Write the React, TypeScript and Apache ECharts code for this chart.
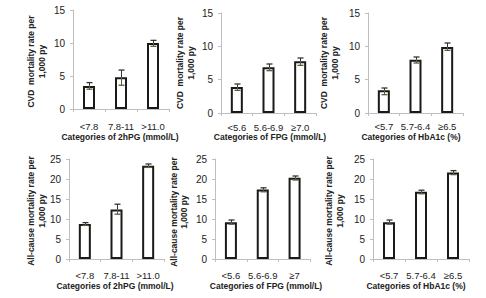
import React, { useEffect, useRef } from "react";
import * as echarts from "echarts";

// ---- data ----
const hpgCategories = ["<7.8", "7.8-11", ">11.0"];
const fpgCategoriesCvd = ["<5.6", "5.6-6.9", "≥7.0"];
const fpgCategoriesAll = ["<5.6", "5.6-6.9", "≥7"];
const hbaCategories = ["<5.7", "5.7-6.4", "≥6.5"];

const cvdHpgRates = [3.5, 4.8, 10.0];
const cvdHpgLow = [3.0, 3.6, 9.5];
const cvdHpgHigh = [4.0, 5.9, 10.4];

const cvdFpgRates = [3.9, 6.85, 7.75];
const cvdFpgLow = [3.4, 6.35, 7.15];
const cvdFpgHigh = [4.35, 7.35, 8.25];

const cvdHbaRates = [3.4, 8.0, 9.9];
const cvdHbaLow = [2.75, 7.5, 9.4];
const cvdHbaHigh = [3.75, 8.4, 10.5];

const allHpgRates = [8.75, 12.4, 23.3];
const allHpgLow = [8.4, 11.2, 22.9];
const allHpgHigh = [9.1, 13.7, 23.75];

const allFpgRates = [9.2, 17.4, 20.3];
const allFpgLow = [8.7, 16.8, 19.75];
const allFpgHigh = [9.75, 17.8, 20.75];

const allHbaRates = [9.2, 16.8, 21.6];
const allHbaLow = [8.7, 16.3, 21.1];
const allHbaHigh = [9.75, 17.2, 22.1];

const cvdAxisMax = 15;
const allAxisMax = 25;
const axisStep = 5;

const cvdTitle = "CVD  mortality rate per\n1,000 py";
const allTitle = "All-cause mortality rate per\n1,000 py";
const hpgTitle = "Categories of 2hPG (mmol/L)";
const fpgTitle = "Categories of FPG (mmol/L)";
const hbaTitle = "Categories of HbA1c (%)";

// ---- layout ----
const panels = [
  { cats: hpgCategories, v: cvdHpgRates, lo: cvdHpgLow, hi: cvdHpgHigh, max: cvdAxisMax, yTitle: cvdTitle, xTitle: hpgTitle,
    grid: { left: 73, top: 10, width: 96, height: 99 }, labelMargin: 12, yt: [36.7, 61.5], xt: [120, 137] },
  { cats: fpgCategoriesCvd, v: cvdFpgRates, lo: cvdFpgLow, hi: cvdFpgHigh, max: cvdAxisMax, yTitle: cvdTitle, xTitle: fpgTitle,
    grid: { left: 221, top: 13, width: 95, height: 100 }, labelMargin: 9, yt: [185.5, 63], xt: [270, 137] },
  { cats: hbaCategories, v: cvdHbaRates, lo: cvdHbaLow, hi: cvdHbaHigh, max: cvdAxisMax, yTitle: cvdTitle, xTitle: hbaTitle,
    grid: { left: 368, top: 13, width: 95, height: 100 }, labelMargin: 8.5, yt: [329.7, 63], xt: [411, 137] },
  { cats: hpgCategories, v: allHpgRates, lo: allHpgLow, hi: allHpgHigh, max: allAxisMax, yTitle: allTitle, xTitle: hpgTitle,
    grid: { left: 69, top: 159, width: 95, height: 100 }, labelMargin: 11.5, yt: [36.7, 211], xt: [115, 285.5] },
  { cats: fpgCategoriesAll, v: allFpgRates, lo: allFpgLow, hi: allFpgHigh, max: allAxisMax, yTitle: allTitle, xTitle: fpgTitle,
    grid: { left: 215, top: 159, width: 95.5, height: 100 }, labelMargin: 11, yt: [179, 212], xt: [266, 285.5] },
  { cats: hbaCategories, v: allHbaRates, lo: allHbaLow, hi: allHbaHigh, max: allAxisMax, yTitle: allTitle, xTitle: hbaTitle,
    grid: { left: 373, top: 159, width: 96, height: 100 }, labelMargin: 11.5, yt: [334.3, 211], xt: [416, 285.5] },
];

const FONT = "'Liberation Sans', Arial, sans-serif";
const NARROW = "'Liberation Sans Narrow', 'Liberation Sans', Arial, sans-serif";
const AXIS_COLOR = "#bfbfbf";

export default function App() {
  const ref = useRef<HTMLDivElement>(null);
  useEffect(() => {
    if (!ref.current) return;
    const chart = echarts.init(ref.current, undefined, { renderer: "svg" });
    const grid: any[] = [];
    const xAxis: any[] = [];
    const yAxis: any[] = [];
    const series: any[] = [];
    const graphic: any[] = [];
    panels.forEach((p, i) => {
      grid.push({ ...p.grid, containLabel: false });
      xAxis.push({
        type: "category",
        gridIndex: i,
        data: p.cats,
        axisLine: { show: true, lineStyle: { color: AXIS_COLOR, width: 1 } },
        axisTick: { show: true, length: 3, lineStyle: { color: AXIS_COLOR } },
        axisLabel: { fontSize: 9.5, color: "#222", fontFamily: FONT, margin: p.labelMargin, interval: 0 },
        splitLine: { show: false },
      });
      yAxis.push({
        type: "value",
        gridIndex: i,
        min: 0,
        max: p.max,
        interval: axisStep,
        axisLine: { show: true, lineStyle: { color: AXIS_COLOR, width: 1 } },
        axisTick: { show: true, length: 3, lineStyle: { color: AXIS_COLOR } },
        axisLabel: { fontSize: 10, color: "#222", fontFamily: FONT, margin: 8 },
        splitLine: { show: false },
      });
      series.push({
        type: "bar",
        xAxisIndex: i,
        yAxisIndex: i,
        data: p.v,
        barWidth: 12,
        itemStyle: { color: "#ffffff", borderColor: "#1a1a1a", borderWidth: 2 },
        z: 2,
      });
      series.push({
        type: "custom",
        xAxisIndex: i,
        yAxisIndex: i,
        z: 3,
        encode: { x: 0, y: [1, 2] },
        data: p.v.map((v, k) => [k, p.lo[k], p.hi[k], v]),
        renderItem: (params: any, api: any) => {
          const x = api.value(0);
          const pLo = api.coord([x, api.value(1)]);
          const pHi = api.coord([x, api.value(2)]);
          const pV = api.coord([x, api.value(3)]);
          const cx = Math.round(pV[0]) + 0.5;
          const hw = 3;
          const upper = "#333333";
          const lower = "#56603e";
          return {
            type: "group",
            children: [
              { type: "line", shape: { x1: cx, y1: pHi[1], x2: cx, y2: pV[1] }, style: { stroke: upper, lineWidth: 1 } },
              { type: "line", shape: { x1: cx - hw, y1: pHi[1], x2: cx + hw, y2: pHi[1] }, style: { stroke: upper, lineWidth: 1.3 } },
              { type: "line", shape: { x1: cx, y1: pV[1], x2: cx, y2: pLo[1] }, style: { stroke: lower, lineWidth: 1 } },
              { type: "line", shape: { x1: cx - hw, y1: pLo[1], x2: cx + hw, y2: pLo[1] }, style: { stroke: lower, lineWidth: 1.3 } },
            ],
          };
        },
      });
      graphic.push({
        type: "text",
        x: p.yt[0],
        y: p.yt[1],
        rotation: Math.PI / 2,
        style: {
          text: p.yTitle,
          fontSize: 8.5,
          fontWeight: "bold",
          fontFamily: NARROW,
          fill: "#222",
          align: "center",
          verticalAlign: "middle",
          lineHeight: 10.5,
        },
      });
      graphic.push({
        type: "text",
        x: p.xt[0],
        y: p.xt[1],
        style: {
          text: p.xTitle,
          fontSize: 8.5,
          fontWeight: "bold",
          fontFamily: NARROW,
          fill: "#222",
          align: "center",
          verticalAlign: "middle",
        },
      });
    });
    chart.setOption({
      animation: false,
      backgroundColor: "#ffffff",
      grid,
      xAxis,
      yAxis,
      series,
      graphic,
    });
    return () => chart.dispose();
  }, []);
  return (
    <div
      ref={ref}
      style={{ position: "fixed", left: 0, top: 0, width: 486, height: 298, background: "#fff" }}
    />
  );
}
